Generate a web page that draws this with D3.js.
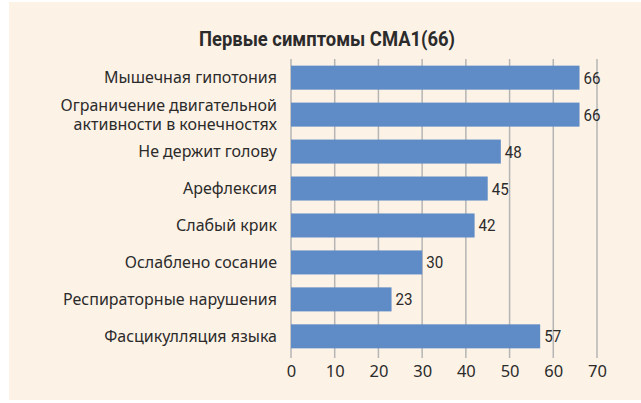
<!DOCTYPE html>
<meta charset="utf-8">
<style>
  body { margin: 0; background: #fff; }
  .grid line { stroke: #b5b5b5; stroke-width: 1.5px; }
  .cat { font-family: "Noto Sans", sans-serif; font-size: 16px; fill: #2b2b2b; }
  .val { font-family: "Roboto", sans-serif; font-size: 16.5px; fill: #2b2b2b; }
  .tick text { font-family: "Noto Sans", sans-serif; font-size: 16.5px; fill: #2b2b2b; }
</style>
<svg width="641" height="403"></svg>
<script src="https://d3js.org/d3.v7.min.js"></script>
<script>

    var categories = [
        ["Мышечная гипотония"],
        ["Ограничение двигательной", "активности в конечностях"],
        ["Не держит голову"],
        ["Арефлексия"],
        ["Слабый крик"],
        ["Ослаблено сосание"],
        ["Респираторные нарушения"],
        ["Фасцикулляция языка"]
    ];
    var values = [66, 66, 48, 45, 42, 30, 23, 57];
    var ticks = [0, 10, 20, 30, 40, 50, 60, 70];
    var title = "Первые симптомы СМА1(66)";

    var svg = d3.select("svg");

    svg.append("rect")
        .attr("x", 9).attr("y", 2)
        .attr("width", 632).attr("height", 398)
        .attr("fill", "#fdf2e6");

    svg.append("text")
        .attr("x", 327).attr("y", 46)
        .attr("text-anchor", "middle")
        .attr("textLength", 256)
        .attr("lengthAdjust", "spacingAndGlyphs")
        .style("font-family", "'Roboto', sans-serif")
        .style("font-weight", "bold")
        .style("font-size", "21px")
        .style("fill", "#2b2b2b")
        .text(title);

    var x = d3.scaleLinear().domain([0, 70]).range([291, 597]);
    var y = d3.scaleBand().domain(d3.range(values.length)).range([59, 355]).paddingInner(0.35).paddingOuter(0.18);

    var grid = svg.append("g").attr("class", "grid");
    grid.selectAll("line")
        .data(ticks)
        .enter().append("line")
        .attr("x1", function(d) { return x(d); })
        .attr("x2", function(d) { return x(d); })
        .attr("y1", 59)
        .attr("y2", 358);

    svg.append("g")
        .selectAll("rect")
        .data(values)
        .enter().append("rect")
        .attr("x", x(0))
        .attr("y", function(d, i) { return y(i); })
        .attr("width", function(d) { return x(d) - x(0); })
        .attr("height", y.bandwidth())
        .attr("fill", "#5f8cc6");

    svg.append("g")
        .selectAll("text")
        .data(values)
        .enter().append("text")
        .attr("class", "val")
        .attr("x", function(d) { return x(d) + 4; })
        .attr("y", function(d, i) { return y(i) + y.bandwidth() / 2 + 6; })
        .attr("textLength", 17)
        .attr("lengthAdjust", "spacingAndGlyphs")
        .text(function(d) { return d; });

    var cat = svg.append("g")
        .selectAll("text")
        .data(categories)
        .enter().append("text")
        .attr("class", "cat")
        .attr("text-anchor", "end")
        .attr("x", 277)
        .attr("y", function(d, i) {
            var c = y(i) + y.bandwidth() / 2 + 5.5;
            return d.length > 1 ? c - 9.5 : c;
        });
    cat.selectAll("tspan")
        .data(function(d) { return d; })
        .enter().append("tspan")
        .attr("x", 277)
        .attr("dy", function(d, i) { return i ? 19 : 0; })
        .text(function(d) { return d; });

    var axis = svg.append("g")
        .attr("transform", "translate(0,358)")
        .call(d3.axisBottom(x).tickValues(ticks).tickSize(0).tickPadding(7));
    axis.select(".domain").remove();

</script>
